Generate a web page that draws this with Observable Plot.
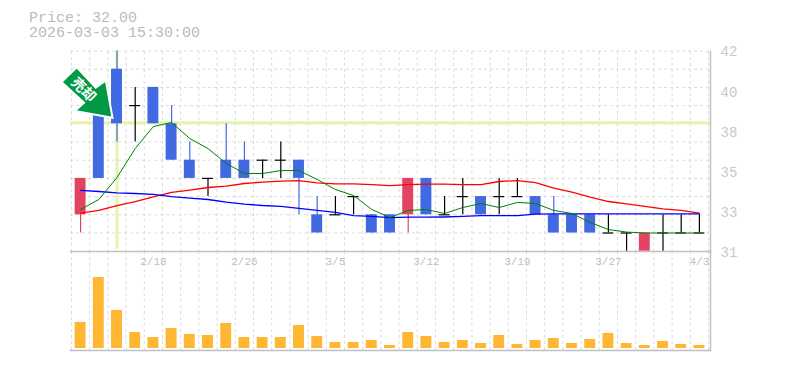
<!DOCTYPE html>
<html><head><meta charset="utf-8">
<script src="https://cdn.jsdelivr.net/npm/d3@7"></script>
<script src="https://cdn.jsdelivr.net/npm/@observablehq/plot@0.6"></script>
<style>
html,body{margin:0;padding:0;background:#fff;overflow:hidden}
#wrap{position:relative;width:785px;height:370px}
#head{position:absolute;left:29px;top:11px;font:15px/15px "Liberation Mono",monospace;color:#bbb;white-space:pre;z-index:2}
#chart svg{display:block;position:relative}
</style></head><body>
<div id="wrap"><div id="head"></div><div id="chart"></div></div>
<script>
const titleLines = ["Price: 32.00", "2026-03-03 15:30:00"];
const dates = ["2/12","2/13","2/16","2/17","2/18","2/19","2/20","2/24","2/25","2/26","2/27","3/2","3/3","3/4","3/5","3/6","3/9","3/10","3/11","3/12","3/13","3/16","3/17","3/18","3/19","3/23","3/24","3/25","3/26","3/27","3/30","3/31","4/1","4/2","4/3"];
const tickLabels = ["2/18","2/26","3/5","3/12","3/19","3/27","4/3"];
const openV  = [33,39,41,39,40,38,36,35,36,36,36,36,36,33,33,34,33,33,33,35,33,34,34,34,34,34,33,33,33,32,32,31,32,32,32];
const highV  = [35,39,42,40,40,39,37,35,38,37,36,37,36,34,34,34,33,33,35,35,34,35,34,35,35,34,34,33,33,33,32,32,33,33,33];
const lowV   = [32,35,37,37,38,36,35,34,35,35,35,35,33,32,33,33,32,32,32,33,33,33,33,33,34,33,32,32,32,32,31,31,31,32,32];
const closeV = [35,35,38,39,38,36,35,35,35,35,36,36,35,32,33,34,32,32,35,33,33,34,33,34,34,33,32,32,32,32,32,32,32,32,32];
const volume = [26,71,38,16,11,20,14,13,25,11,11,11,23,12,6,6,8,3,16,12,6,8,5,13,4,8,10,5,9,15,5,3,7,4,3];
const maGreen = [33.29,33.84,35.05,36.64,37.85,38.07,37.19,36.64,35.82,35.27,35.27,35.43,35.43,34.94,34.39,34.06,33.29,32.85,33.24,33.29,33.07,33.4,33.62,33.4,33.68,33.62,33.24,33.07,32.58,32.19,32.05,32,32,32,32];
const maBlue = [34.34,34.28,34.2,34.17,34.12,34,33.92,33.84,33.7,33.59,33.51,33.46,33.35,33.24,33.13,32.96,32.91,32.85,32.87,32.87,32.88,32.91,32.96,32.96,32.96,33.04,33.05,33.05,33.05,33.05,33.05,33.05,33.05,33.05,33.05];
const maRed = [33.09,33.24,33.51,33.73,33.98,34.23,34.36,34.5,34.58,34.72,34.8,34.85,34.88,34.75,34.7,34.7,34.66,34.6,34.66,34.69,34.69,34.66,34.66,34.83,34.88,34.77,34.46,34.24,33.97,33.73,33.6,33.46,33.33,33.24,33.09];
const priceGrid = [32,33,34,35,36,37,38,39,40,41,42];
const priceTicks = [31,33.2,35.4,37.6,39.8,42];
const markPrice = 38, markDate = "2/16", calloutText = "売却";

const candles = dates.map((d,i)=>({d,o:openV[i],h:highV[i],l:lowV[i],c:closeV[i],v:volume[i],g:maGreen[i],b:maBlue[i],r:maRed[i]}));
const kind = c => c.o===c.c ? "flat" : c.c>c.o ? "up" : "down";
const UP="#e24362", DOWN="#4169e1", GRID="#dcdcdc", AXIS="#c0c0c0", MARK="#e4f5ab";
const xScale = {domain:dates, range:[71,708], paddingInner:.4, paddingOuter:.2, round:false, axis:null};
const step = 637/dates.length;
const arrowSym = {draw(ctx){
  ctx.moveTo(0,0); ctx.lineTo(-37.7,-6.6); ctx.lineTo(-28.4,-15); ctx.lineTo(-51,-35.6);
  ctx.lineTo(-35.7,-50.3); ctx.lineTo(-16.7,-30); ctx.lineTo(-6.7,-37.3); ctx.closePath();
}};
const plotStyle = {background:"transparent",overflow:"visible"};

const price = Plot.plot({
  width:785, height:251, marginTop:51, marginBottom:0, marginLeft:70, marginRight:75, style:plotStyle,
  x:xScale, y:{domain:[31,42], range:[250.7,50.5]},
  marks:[
    Plot.ruleY(priceGrid,{stroke:GRID,strokeDasharray:"3 3"}),
    Plot.ruleX(dates,{x:d=>d,dx:-step/2,stroke:GRID,strokeDasharray:"3 3"}),
    Plot.ruleX(dates.slice(-1),{x:d=>d,dx:step/2,stroke:GRID,strokeDasharray:"3 3"}),
    Plot.ruleY([markPrice],{stroke:MARK,strokeWidth:3,dy:-1}),
    Plot.ruleX([markDate],{x:d=>d,y1:42,y2:31.1,stroke:MARK,strokeWidth:3}),
    Plot.ruleX(candles,{x:"d",y1:"l",y2:"h",stroke:c=>kind(c)==="up"?UP:kind(c)==="down"?DOWN:"#000",strokeWidth:1.2}),
    Plot.barY(candles.filter(c=>kind(c)!=="flat"),{x:"d",y1:"o",y2:"c",fill:c=>kind(c)==="up"?UP:DOWN}),
    Plot.tickY(candles.filter(c=>kind(c)==="flat"),{x:"d",y:"c",stroke:"#000",strokeWidth:1.2}),
    Plot.line(candles,{x:"d",y:"r",stroke:"#ff0000",strokeWidth:1.3,curve:"linear"}),
    Plot.line(candles,{x:"d",y:"b",stroke:"#0000ff",strokeWidth:1.3,curve:"linear"}),
    Plot.line(candles,{x:"d",y:"g",stroke:"#008000",strokeWidth:1,curve:"linear"}),
    Plot.dot([{d:markDate,p:markPrice}],{x:"d",y:"p",dx:-4.5,dy:-6.1,symbol:arrowSym,r:5,fill:"#009944",stroke:"#fff",strokeWidth:2}),
    Plot.text([calloutText],{x:()=>markDate,y:()=>markPrice,dx:-33.7,dy:-33.9,rotate:45,fill:"#fff",fontSize:14,fontWeight:"bold",fontFamily:"'Noto Sans CJK JP'"}),
    Plot.axisY({anchor:"right",ticks:priceTicks,tickSize:0,tickPadding:10,tickFormat:d=>String(Math.round(d)),fontSize:14,fontFamily:"'Liberation Mono'",color:"#c8c8c8",label:null,dy:1}),
    Plot.frame({anchor:"bottom",stroke:AXIS,strokeWidth:1.5}),
    Plot.frame({anchor:"right",stroke:AXIS,strokeWidth:1.5})
  ]
});
const vol = Plot.plot({
  width:785, height:119, marginTop:0, marginBottom:20, marginLeft:70, marginRight:75, style:plotStyle,
  x:xScale, y:{domain:[0,97], range:[97,0], axis:null},
  marks:[
    Plot.ruleX(dates,{x:d=>d,dx:-step/2,stroke:GRID,strokeDasharray:"3 3"}),
    Plot.ruleX(dates.slice(-1),{x:d=>d,dx:step/2,stroke:GRID,strokeDasharray:"3 3"}),
    Plot.barY(candles,{x:"d",y:"v",fill:"#ffb733"}),
    Plot.axisX({anchor:"top",ticks:tickLabels,tickSize:0,tickPadding:-13,fontSize:11,fontFamily:"'Liberation Mono'",color:"#c0c0c0",label:null}),
    Plot.frame({anchor:"bottom",stroke:AXIS,strokeWidth:1.5}),
    Plot.frame({anchor:"right",stroke:AXIS,strokeWidth:1.5})
  ]
});
document.getElementById("head").textContent = titleLines.join("\n");
const chart=document.getElementById("chart");
chart.append(price, vol);
price.style.zIndex = 1;
</script>
</body></html>
